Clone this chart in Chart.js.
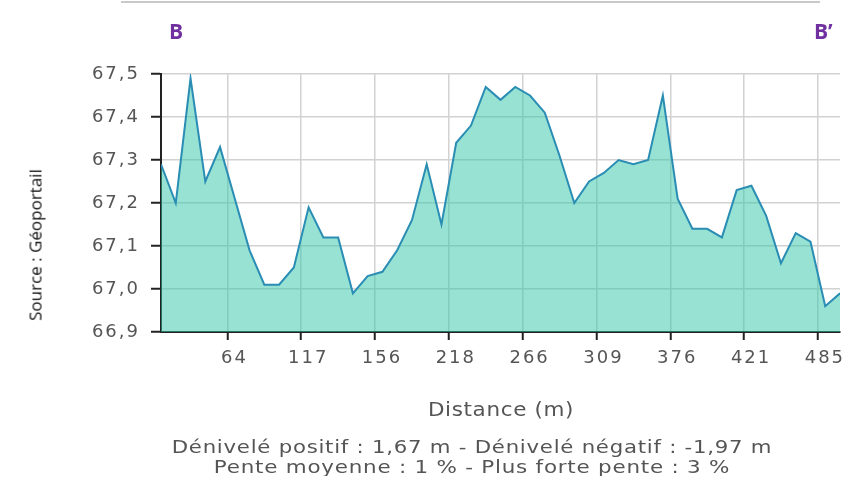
<!DOCTYPE html>
<html>
<head>
<meta charset="utf-8">
<script src="https://cdn.jsdelivr.net/npm/chart.js@4/dist/chart.umd.min.js"></script>
<style>
  body { margin: 0; background: #fff; }
  #wrap { position: relative; width: 858px; height: 481px; overflow: hidden; }
  #profile { position: absolute; left: 0; top: 0; }
  .txt { position: absolute; white-space: nowrap; }
  #topline { position: absolute; left: 121px; top: 1px; width: 699px; height: 2px; background: #c9c9c9; }
  .pt { font-family: "Open Sans", sans-serif; font-weight: bold; font-size: 21px; color: #7030a0; top: 17px; }
  #source { font-family: "Open Sans", sans-serif; font-size: 17px; color: #111;
            left: 35px; top: 245px; transform: translate(-50%, -50%) rotate(-90deg); }
  .wide { font-family: "DejaVu Sans", sans-serif; color: #555; letter-spacing: 0.6px; }
  #xtitle { font-size: 20px; left: 501px; top: 397px; }
  .stat { font-size: 17px; left: 472px; }
  #clipline { position: absolute; left: 0; top: 457px; width: 858px; height: 19px; overflow: hidden; }
</style>
</head>
<body>
<div id="wrap">
  <canvas id="profile" width="858" height="481"></canvas>
  <div id="topline"></div>
  <div class="txt pt" style="left:169px">B</div>
  <div class="txt pt" style="left:814px">B’</div>
  <div id="source" class="txt">Source : Géoportail</div>
  <div id="xtitle" class="txt wide" data-w="146">Distance (m)</div>
  <div class="txt wide stat" style="top:437px" data-w="600">Dénivelé positif : 1,67 m - Dénivelé négatif : -1,97 m</div>
  <div id="clipline"><div class="txt wide stat" style="top:0px" data-w="516">Pente moyenne : 1 % - Plus forte pente : 3 %</div></div>
</div>
<script>
// altitude (m) of each profile sample, left to right
const elevation = [
  67.29, 67.20, 67.49, 67.25, 67.33, 67.21, 67.09, 67.01, 67.01, 67.05,
  67.19, 67.12, 67.12, 66.99, 67.03, 67.04, 67.09, 67.16, 67.29, 67.15,
  67.34, 67.38, 67.47, 67.44, 67.47, 67.45, 67.41, 67.31, 67.20, 67.25,
  67.27, 67.30, 67.29, 67.30, 67.45, 67.21, 67.14, 67.14, 67.12, 67.23,
  67.24, 67.17, 67.06, 67.13, 67.11, 66.96, 66.99
];
// distance labels shown every 5 samples
const distLabels = ['64', '117', '156', '218', '266', '309', '376', '421', '485'];
const labelStep = 5;

const yMin = 66.9, yMax = 67.5, yStep = 0.1;

// the source screenshot is stretched sideways: widen the html captions to match
document.querySelectorAll('.wide').forEach(el => {
    const sx = el.dataset.w / el.offsetWidth;
    el.style.transform = `translateX(-50%) scaleX(${sx.toFixed(3)})`;
});

const points = elevation.map((v, i) => ({ x: i, y: v }));
const tickFont = { family: 'DejaVu Sans', size: 18 };

// canvas resets its state on resize, so set the spacing before measuring and drawing
const spacedText = {
    id: 'spacedText',
    beforeUpdate: chart => { chart.ctx.letterSpacing = '2px'; },
    beforeDraw: chart => { chart.ctx.letterSpacing = '2px'; }
};

new Chart(document.getElementById('profile'), {
    type: 'line',
    data: {
        datasets: [{
            data: points,
            borderColor: '#2a8db3',
            borderWidth: 2,
            backgroundColor: 'rgba(49, 197, 170, 0.5)',
            fill: 'start',
            pointRadius: 0,
            tension: 0
        }]
    },
    plugins: [spacedText],
    options: {
        responsive: false,
        animation: false,
        layout: { padding: { top: 74, right: 18, left: 0, bottom: 0 } },
        plugins: { legend: { display: false }, tooltip: { enabled: false } },
        scales: {
            x: {
                type: 'linear',
                min: 0,
                max: elevation.length - 1,
                afterBuildTicks: scale => {
                    scale.ticks = distLabels.map((l, k) => ({ value: (k + 1) * labelStep - 0.5 }));
                },
                afterFit: scale => { scale.height = 149; },
                grid: { color: '#d2d2d2', lineWidth: 1.5, tickColor: '#222', tickLength: 8, tickWidth: 2 },
                border: { color: '#222', width: 2 },
                ticks: {
                    autoSkip: false,
                    maxRotation: 0,
                    padding: 8,
                    labelOffset: 7,
                    color: '#555',
                    font: tickFont,
                    callback: (v, i) => distLabels[i]
                }
            },
            y: {
                min: yMin,
                max: yMax,
                afterFit: scale => { scale.width = 161; },
                grid: { color: '#d2d2d2', lineWidth: 1.5, tickColor: '#222', tickLength: 10, tickWidth: 2 },
                border: { color: '#222', width: 2 },
                ticks: {
                    stepSize: yStep,
                    padding: 11,
                    color: '#555',
                    font: tickFont,
                    callback: v => v.toFixed(1).replace('.', ',')
                }
            }
        }
    }
});
</script>
</body>
</html>
